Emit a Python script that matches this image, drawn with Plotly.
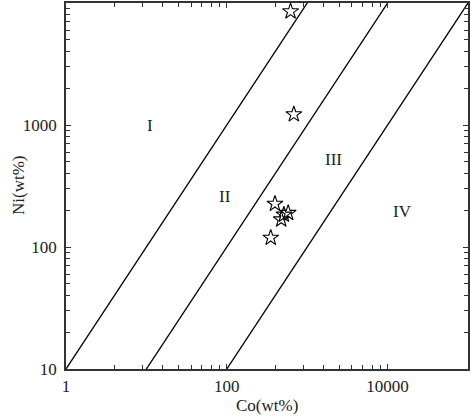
import math
import plotly.graph_objects as go

# sample points (Co, Ni)
CO = [621, 682, 397, 580, 513, 475, 352]
NI = [8530, 1222, 226, 190, 184, 168, 119]

# field boundaries: Ni = ratio * Co
BOUNDARY_RATIOS = [10, 1, 0.1]
CO_SPAN = [1, 100000]

FIELD_LABELS = ['I', 'II', 'III', 'IV']
FIELD_CO = [11, 95, 2130, 15200]
FIELD_NI = [1000, 260, 521, 195]

X_TICKS = [1, 100, 10000]
Y_TICKS = [10, 100, 1000]
X_MINOR = [4, 9, 16, 25, 36, 49, 64, 81,
           400, 900, 1600, 2500, 3600, 4900, 6400, 8100]
Y_MINOR = [20, 30, 40, 50, 60, 70, 80, 90,
           200, 300, 400, 500, 600, 700, 800, 900,
           2000, 3000, 4000, 5000, 6000, 7000, 8000, 9000]

FONT = 'Liberation Serif'
AXIS_COLOR = '#333333'
TEXT_COLOR = '#222222'

fig = go.Figure()

for ratio in BOUNDARY_RATIOS:
    fig.add_trace(go.Scatter(
        x=CO_SPAN,
        y=[ratio * c for c in CO_SPAN],
        mode='lines',
        line=dict(color='black', width=1.3),
        showlegend=False,
        hoverinfo='skip',
    ))

fig.add_trace(go.Scatter(
    x=CO, y=NI,
    mode='markers',
    marker=dict(symbol='star-open', size=12, color='black',
                line=dict(color='black', width=1.1)),
    showlegend=False,
))

# annotations on log axes take log10 positions
for label, cx, ny in zip(FIELD_LABELS, FIELD_CO, FIELD_NI):
    fig.add_annotation(x=math.log10(cx), y=math.log10(ny), xref='x', yref='y',
                       text=label, showarrow=False,
                       font=dict(family=FONT, size=17, color=TEXT_COLOR))

axis_style = dict(
    type='log',
    showgrid=False,
    zeroline=False,
    showline=True,
    linecolor=AXIS_COLOR,
    linewidth=1.5,
    mirror='ticks',
    ticks='inside',
    ticklen=5,
    tickwidth=1.2,
    tickcolor=AXIS_COLOR,
    tickfont=dict(family=FONT, size=17, color=TEXT_COLOR),
)

fig.update_xaxes(
    **axis_style,
    range=[0, 5],
    tickmode='array',
    tickvals=X_TICKS,
    ticktext=[str(v) for v in X_TICKS],
    minor=dict(tickmode='array', tickvals=X_MINOR, ticks='inside',
               ticklen=4, tickwidth=1.2, tickcolor=AXIS_COLOR),
    ticklabelstandoff=1,
)
fig.update_yaxes(
    **axis_style,
    range=[1, 4],
    tickmode='array',
    tickvals=Y_TICKS,
    ticktext=[str(v) for v in Y_TICKS],
    minor=dict(tickmode='array', tickvals=Y_MINOR, ticks='inside',
               ticklen=4, tickwidth=1.2, tickcolor=AXIS_COLOR),
    ticklabelstandoff=4,
)

fig.add_annotation(text='Co(wt%)', xref='paper', yref='paper', x=0.5, y=0,
                   yanchor='middle', yshift=-36, showarrow=False,
                   font=dict(family=FONT, size=17, color=TEXT_COLOR))
fig.add_annotation(text='Ni(wt%)', xref='paper', yref='paper', x=0, y=0.5,
                   textangle=-90, xanchor='center', xshift=-48, showarrow=False,
                   font=dict(family=FONT, size=17, color=TEXT_COLOR))

fig.update_layout(
    width=471, height=417,
    margin=dict(l=66, r=1, t=2, b=48),
    paper_bgcolor='white',
    plot_bgcolor='white',
)

fig.write_html('out.html', config={'displayModeBar': False},
               post_script="document.body.style.margin='0';")
